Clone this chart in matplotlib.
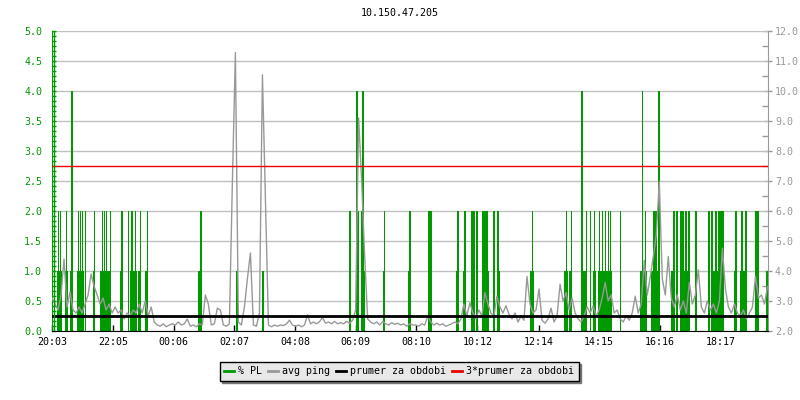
import numpy as np
import matplotlib
matplotlib.use("Agg")
import matplotlib.pyplot as plt
from matplotlib.ticker import MultipleLocator, FormatStrFormatter

# avg ping [ms], one sample every 6 minutes from 20:03
ping = [
    3.1, 2.9, 2.7, 3.2, 4.4, 2.8, 3.3, 2.7, 2.6, 2.8, 2.6, 2.9, 3.2, 3.9, 3.5, 3.2, 2.9, 3.1, 2.7, 2.9,
    2.6, 2.8, 2.6, 2.7, 2.4, 2.6, 2.5, 2.7, 2.6, 2.9, 2.6, 3.0, 2.5, 2.8, 2.3, 2.2, 2.16, 2.24, 2.14, 2.2,
    2.24,
    2.2, 2.3, 2.2, 2.24, 2.4, 2.16, 2.2, 2.14, 2.24, 2.2, 3.2, 2.9, 2.2, 2.24, 2.76, 2.7, 2.2, 2.16, 2.24, 6.94,
    11.28, 2.3, 2.2, 2.8, 3.74, 4.6, 2.2, 2.16, 2.6, 10.54, 6.3, 2.2, 2.14, 2.2, 2.16, 2.2, 2.18, 2.24, 2.36, 2.2,
    2.16, 2.2, 2.14, 2.2, 2.54, 2.24, 2.3, 2.24, 2.32, 2.44, 2.26, 2.3, 2.24, 2.32, 2.24, 2.28, 2.24, 2.32, 2.26, 2.36,
    2.7, 9.1, 7.0, 4.5, 2.4, 2.3, 2.24, 2.3, 2.2, 2.32, 2.24, 2.2, 2.28, 2.22, 2.26, 2.2, 2.24, 2.16, 2.24, 2.2,
    2.2, 2.16, 2.24, 2.2, 2.5, 2.3, 2.2, 2.26, 2.2, 2.24, 2.16, 2.2, 2.24, 2.3, 2.24, 2.4, 2.9, 2.5, 2.94, 2.6,
    2.4, 2.7, 2.5, 3.28, 2.9, 2.6, 2.5, 3.16, 2.8, 2.6, 2.84, 2.56, 2.4, 2.6, 2.3, 2.5, 2.36, 3.82, 2.9, 2.6,
    2.7, 3.4, 2.36, 2.26, 2.4, 2.76, 2.3, 2.5, 3.56, 3.0, 3.28, 2.7, 3.1, 2.6, 2.4, 2.3, 2.5, 2.8, 2.6, 2.84,
    2.5, 2.7, 3.1, 3.62, 3.0, 3.2, 2.6, 2.7, 2.4, 2.3, 2.5, 2.36, 2.6, 3.16, 2.6, 2.9, 4.36, 3.2, 3.8, 4.48,
    5.2, 6.98, 3.74, 3.2, 4.48, 3.1, 2.8, 3.2, 2.7, 3.0, 2.6, 3.62, 2.9, 3.2, 4.04, 2.8, 2.6, 3.0, 2.7, 2.9,
    2.6, 3.0, 4.76, 3.4, 2.8, 2.6, 2.9, 2.6, 2.5, 2.7, 2.4, 2.6, 2.8, 3.82, 3.1, 3.2, 2.9, 3.48,
]
step_min = 6

# packet loss [%]: start minute after 20:03, duration [min], value
pl_start = [10, 26, 36, 50, 82, 96, 112, 136, 156, 172, 186,
            11, 15, 27, 51, 55, 59, 65, 83, 99, 103, 107, 115, 138, 151, 158, 165, 175, 189, 38,
            292, 295, 368, 420,
            592, 593, 607, 608, 616, 619, 620, 660, 662, 710, 713,
            750, 806, 809, 820, 822, 836, 846, 858, 867, 868, 881, 888, 888, 954, 957,
            1022, 1025, 1032, 1035, 1055, 1060, 1065, 1073, 1080, 1081, 1090,
            1091, 1097, 1103, 1109, 1113, 1133, 1174, 1177, 1183, 1199,
            1196, 1204, 1209, 1208, 1236, 1239, 1245, 1253, 1260, 1258, 1264, 1269, 1283, 1309,
            1316, 1316, 1323, 1328, 1329, 1333, 1337, 1362, 1363, 1374, 1376, 1383, 1404, 1426]
pl_len = [8, 4, 4, 12, 2, 14, 4, 4, 12, 4, 4,
          1.5, 1.5, 1.5, 1.5, 1.5, 1.5, 1.5, 1.5, 1.5, 1.5, 1.5, 1.5, 1.5, 1.5, 1.5, 1.5, 1.5, 1.5, 1.5,
          4, 1.5, 2, 2,
          2, 1.5, 1.5, 2, 4, 1.5, 2, 2, 1.5, 4, 1.5,
          6, 4, 1.5, 4, 1.5, 6, 1.5, 6, 1.5, 2, 1.5, 4, 2, 6, 1.5,
          6, 1.5, 4, 1.5, 3, 6, 1.5, 1.5, 4, 1.5, 26,
          1.5, 1.5, 1.5, 1.5, 1.5, 1.5, 12, 1.5, 1.5, 1.5,
          6, 1.5, 1.5, 4, 6, 1.5, 1.5, 1.5, 12, 1.5, 1.5, 1.5, 1.5, 1.5,
          6, 1.5, 1.5, 12, 1.5, 1.5, 1.5, 4, 1.5, 12, 1.5, 1.5, 6, 2]
pl_pct = [1, 1, 1, 1, 1, 1, 1, 1, 1, 1, 1,
          2, 2, 2, 2, 2, 2, 2, 2, 2, 2, 2, 2, 2, 2, 2, 2, 2, 2, 4,
          1, 2, 1, 1,
          1, 2, 4, 2, 2, 4, 1, 1, 2, 1, 2,
          2, 1, 2, 1, 2, 2, 2, 2, 2, 1, 2, 1, 2, 1, 2,
          1, 2, 1, 2, 4, 1, 2, 2, 1, 2, 1,
          2, 2, 2, 2, 2, 2, 1, 4, 2, 2,
          1, 2, 4, 1, 1, 2, 2, 2, 1, 2, 2, 2, 2, 2,
          1, 2, 2, 1, 2, 2, 2, 1, 2, 1, 2, 2, 2, 1]

prumer = 2.5  # ms
tick_labels = ["20:03", "22:05", "00:06", "02:07", "04:08", "06:09",
               "08:10", "10:12", "12:14", "14:15", "16:16", "18:17"]
title = "10.150.47.205"

green = "#009900"
gray = "#999999"
font = "DejaVu Sans Mono"
fs = 7.2
plt.rcParams["font.family"] = font


def ms_to_left(v):
    return (np.asarray(v, dtype=float) - 2) / 2


def left_to_ms(v):
    return np.asarray(v, dtype=float) * 2 + 2


fig = plt.figure(figsize=(8, 4), dpi=100)
ax = fig.add_axes([52 / 800, 69 / 400, 716 / 800, 300 / 400])

t = np.arange(len(ping)) * step_min
ax.bar(pl_start, pl_pct, width=pl_len, align="edge", color=green,
       edgecolor=green, linewidth=0.7, antialiased=False, zorder=2)
ax.plot(t, ms_to_left(ping), color=gray, lw=1, zorder=3)
ax.axhline(ms_to_left(prumer), color="black", lw=2, zorder=4)
ax.axhline(ms_to_left(3 * prumer), color="#ee0000", lw=1, zorder=4)

ax.set_xlim(0, (len(ping) - 1) * step_min + 1)
ax.set_ylim(0, 5)

# x ticks from the labels
start = int(tick_labels[0][:2]) * 60 + int(tick_labels[0][3:])
tick_pos = [((int(s[:2]) * 60 + int(s[3:])) - start) % 1440 for s in tick_labels]
ax.set_xticks(tick_pos)
ax.set_xticklabels(tick_labels, fontsize=fs, color="black")
ax.tick_params(axis="x", direction="in", length=4, width=1, color="black", pad=4)

ax.yaxis.set_major_locator(MultipleLocator(0.5))
ax.yaxis.set_minor_locator(MultipleLocator(0.5 / 6))
ax.yaxis.set_major_formatter(FormatStrFormatter("%.1f"))
ax.tick_params(axis="y", which="major", length=3, direction="in", width=1,
               color=green, labelcolor=green, labelsize=fs, pad=7)
ax.tick_params(axis="y", which="minor", length=3, direction="in", width=1, color=green)
ax.axvline(2.2 * 2, color=green, lw=1, zorder=5)
ax.grid(axis="y", color="#c0c0c0", lw=1, zorder=0)
ax.set_axisbelow(True)

ax.spines["top"].set_visible(False)
ax.spines["right"].set_visible(False)
ax.spines["left"].set_color(green)
ax.spines["bottom"].set_color("black")

lo, hi = left_to_ms(ax.get_ylim())
sec = ax.secondary_yaxis("right", functions=(left_to_ms, ms_to_left))
sec.set_yticks(np.arange(lo, hi + 0.01, 1.0))
sec.set_yticks(np.arange(lo + 0.5, hi, 1.0), minor=True)
sec.yaxis.set_major_formatter(FormatStrFormatter("%.1f"))
sec.yaxis.get_offset_text().set_visible(False)
sec.tick_params(which="major", direction="inout", length=6, width=1, color=gray,
                labelcolor=gray, labelsize=fs, pad=2)
sec.tick_params(which="minor", direction="in", length=4, width=1, color=gray)
sec.spines["right"].set_color(gray)

for lab in ax.get_xticklabels() + ax.get_yticklabels() + sec.get_yticklabels():
    lab.set_fontfamily(font)

fig.text(0.5, 1 - 13 / 400, title, ha="center", va="center", fontsize=fs, color="black")

handles = [plt.Line2D([], [], color=green, lw=2),
           plt.Line2D([], [], color=gray, lw=2),
           plt.Line2D([], [], color="black", lw=2),
           plt.Line2D([], [], color="#ee0000", lw=2)]
names = ["% PL", "avg ping", "prumer za obdobi", "3*prumer za obdobi"]
leg = fig.legend(handles, names, loc="center", bbox_to_anchor=(399 / 800, 1 - 371 / 400),
                 ncol=4, fontsize=fs, frameon=True, fancybox=False,
                 shadow={"color": "#777777", "alpha": 1}, framealpha=1,
                 edgecolor="black", facecolor="#e8e8e8", handlelength=1.0,
                 handletextpad=0.4, columnspacing=0.6, borderpad=0.45,
                 borderaxespad=0)
leg.get_frame().set_linewidth(1)

fig.savefig("out.png", dpi=100)
